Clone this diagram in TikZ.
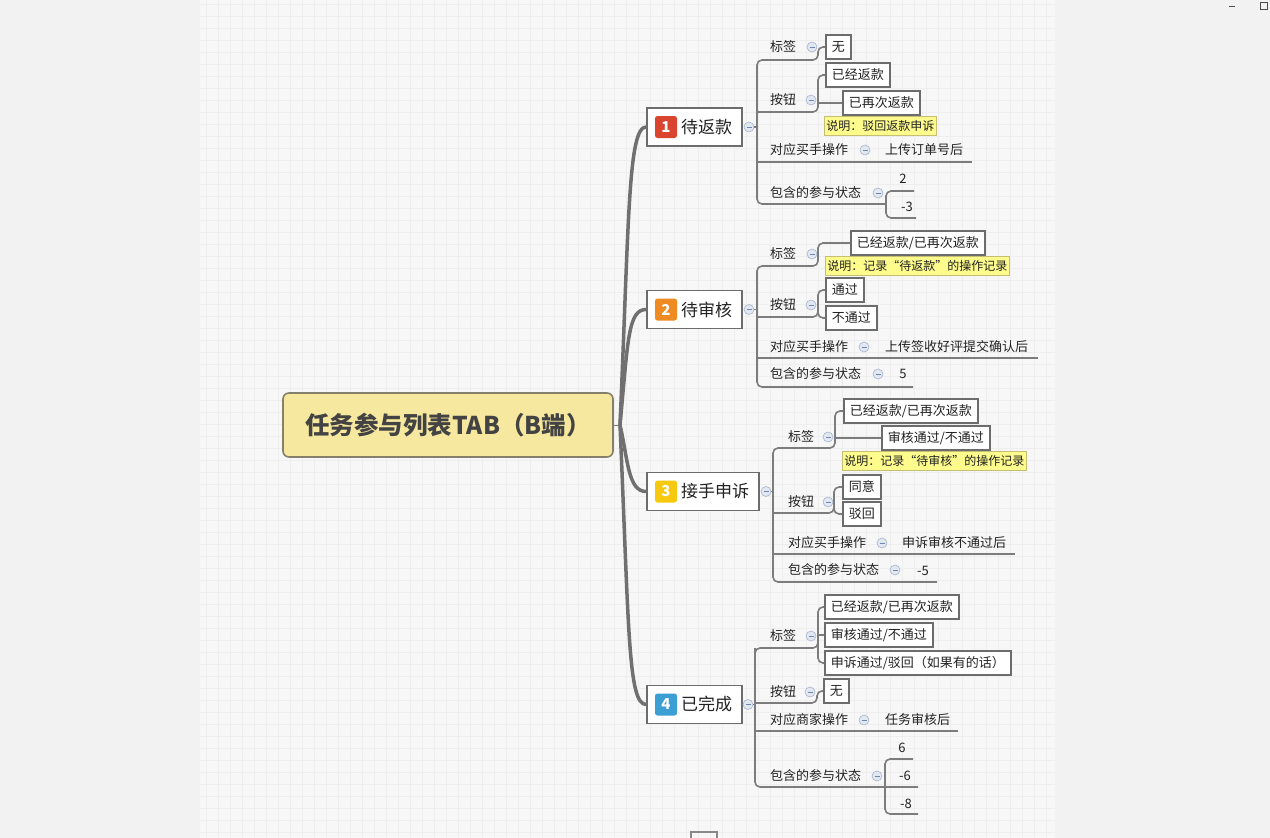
\documentclass[tikz,border=0pt]{standalone}
\usepackage{fontspec}
\setmainfont{Noto Sans CJK SC}
\usepackage{xcolor}
\usepackage{tikz}
\usetikzlibrary{positioning,calc}

\definecolor{bgcol}{HTML}{F2F2F2}
\definecolor{gridbg}{HTML}{F7F7F7}
\definecolor{gridln}{HTML}{EEEEEE}
\definecolor{linecol}{HTML}{7C7C7C}
\definecolor{boxln}{HTML}{6C6C6C}
\definecolor{rootfill}{HTML}{F6E89E}
\definecolor{rootln}{HTML}{85806C}
\definecolor{notefill}{HTML}{FDFB8C}
\definecolor{noteln}{HTML}{C6BE72}
\definecolor{foldbg}{HTML}{E2E8F2}
\definecolor{foldln}{HTML}{A7B4CA}
\definecolor{foldmk}{HTML}{6F86AE}
\definecolor{txt}{HTML}{222222}
\definecolor{iconred}{HTML}{D9452E}
\definecolor{iconorange}{HTML}{EE8B22}
\definecolor{iconyellow}{HTML}{F6C90E}
\definecolor{iconblue}{HTML}{3C9FD4}

\begin{document}
\begin{tikzpicture}[x=1pt, y=-1pt,
    conn/.style={draw=linecol, line width=1.6},
    trunk/.style={draw=linecol!90!black, line width=3.5, line cap=round},
    rootbox/.style={draw=rootln, fill=rootfill, line width=1.6, rounded corners=6,
        minimum width=330, minimum height=64, text=txt!85,
        font=\bfseries\fontsize{24.5}{24.5}\selectfont},
    topicbox/.style={draw=boxln, fill=white, line width=1.8, minimum height=38},
    topictext/.style={text=txt, inner sep=0, font=\fontsize{17}{17}\selectfont},
    numicon/.style={fill=#1, rounded corners=2.5, minimum size=22, inner sep=0,
        text=white, font=\bfseries\fontsize{15}{15}\selectfont},
    sub/.style={text=txt, inner sep=0, font=\fontsize{13}{13}\selectfont},
    itembox/.style={draw=boxln, fill=white, line width=1.5, minimum height=24,
        inner xsep=6, inner ysep=0, text=txt, font=\fontsize{13}{13}\selectfont},
    notebox/.style={draw=noteln, fill=notefill, line width=0.8, minimum height=19,
        inner xsep=2, inner ysep=0, text=txt, font=\fontsize{12}{12}\selectfont},
    fold/.style={circle, draw=foldln, fill=foldbg, line width=0.6, minimum size=10,
        inner sep=0, path picture={\draw[foldmk, line width=0.8]
        ($(path picture bounding box.center)+(-2.5,0)$) -- +(5,0);}}]

% background with the grid of the canvas
\useasboundingbox (0,0) rectangle (1270,838);
\fill[bgcol] (0,0) rectangle (1270,838);
\fill[gridbg] (200,0) rectangle (1055,838);
\foreach \gx in {206,218,...,1050}
    \draw[gridln, line width=0.5] (\gx,0) -- (\gx,838);
\foreach \gy in {4,16,...,838}
    \draw[gridln, line width=0.5] (200,\gy) -- (1055,\gy);

% window buttons and the cut off box at the bottom
\draw[black!70, line width=0.8] (1229,6) -- (1235,6);
\draw[black!70, line width=0.8] (1260,2) rectangle (1267,9);
\draw[boxln!80, line width=1.2] (691,839) -- (691,832) -- (717,832) -- (717,839);

% central topic
\node[rootbox] (root) at (448,425) {任务参与列表TAB（B端）};

% main topics
\node[topicbox, minimum width=95] (t1) at (694.5,127) {};
\node[numicon=iconred] (n1) at (666,127) {1};
\node[topictext, anchor=west] (l1) at (681,127) {待返款};
\node[topicbox, minimum width=95] (t2) at (694.5,309.5) {};
\node[numicon=iconorange] (n2) at (666,309.5) {2};
\node[topictext, anchor=west] (l2) at (681,309.5) {待审核};
\node[topicbox, minimum width=112] (t3) at (703,491.5) {};
\node[numicon=iconyellow] (n3) at (666,491.5) {3};
\node[topictext, anchor=west] (l3) at (681,491.5) {接手申诉};
\node[topicbox, minimum width=95] (t4) at (694.5,704.5) {};
\node[numicon=iconblue] (n4) at (666,704.5) {4};
\node[topictext, anchor=west] (l4) at (681,704.5) {已完成};

% trunks from the central topic
\coordinate (hub) at (620,425);
\draw[conn, line width=1] (root.east) -- (hub);
\draw[trunk] (hub) .. controls (629,220) and (628,127) .. (t1.west);
\draw[trunk] (hub) .. controls (628,340) and (628,309.5) .. (t2.west);
\draw[trunk] (hub) .. controls (628,460) and (628,491.5) .. (t3.west);
\draw[trunk] (hub) .. controls (629,630) and (628,704.5) .. (t4.west);

% ---- 1 待返款 ----
\node[fold] (f1) at (749,127) {};
\draw[conn] (f1.east) -- (757,127);
\node[sub, anchor=west] (a1) at (770,47) {标签};
\node[fold] (fa1) at (812,47) {};
\node[itembox, anchor=west] (a1x) at (825,47) {无};
\node[sub, anchor=west] (a2) at (770,100) {按钮};
\node[fold] (fa2) at (811,100) {};
\node[itembox, anchor=west] (a2x) at (825,75) {已经返款};
\node[itembox, anchor=west] (a2y) at (842,103) {已再次返款};
\node[notebox, anchor=west] (a2n) at (824,126) {说明：驳回返款申诉};
\node[sub, anchor=west] (a3) at (770,150) {对应买手操作};
\node[fold] (fa3) at (865,150) {};
\node[sub, anchor=west] (a3x) at (885,150) {上传订单号后};
\node[sub, anchor=west] (a4) at (770,193) {包含的参与状态};
\node[fold] (fa4) at (878,193) {};
\node[sub] (a4x) at (903,179) {2};
\node[sub] (a4y) at (907,207) {-3};
\draw[conn, rounded corners=5] (a1x.west) -- (818,47) -- (818,60) -- (757,60)
    -- (757,204) -- (886,204);
\draw[conn, rounded corners=5] (757,112) -- (818,112) -- (818,75) -- (a2x.west);
\draw[conn] (818,103) -- (a2y.west);
\draw[conn] (757,162) -- (972,162);
\draw[conn, rounded corners=5] (914,191) -- (886,191) -- (886,218) -- (916,218);

% ---- 2 待审核 ----
\node[fold] (f2) at (749,309.5) {};
\draw[conn] (f2.east) -- (757,309.5);
\node[sub, anchor=west] (b1) at (770,254) {标签};
\node[fold] (fb1) at (812,254) {};
\node[itembox, anchor=west] (b1x) at (850,243) {已经返款/已再次返款};
\node[notebox, anchor=west] (b1n) at (825,266) {说明：记录“待返款”的操作记录};
\node[sub, anchor=west] (b2) at (770,305) {按钮};
\node[fold] (fb2) at (811,305) {};
\node[itembox, anchor=west] (b2x) at (825,290) {通过};
\node[itembox, anchor=west] (b2y) at (825,318) {不通过};
\node[sub, anchor=west] (b3) at (770,347) {对应买手操作};
\node[fold] (fb3) at (864,347) {};
\node[sub, anchor=west] (b3x) at (885,347) {上传签收好评提交确认后};
\node[sub, anchor=west] (b4) at (770,374) {包含的参与状态};
\node[fold] (fb4) at (878,374) {};
\node[sub] (b4x) at (903,374) {5};
\draw[conn, rounded corners=5] (b1x.west) -- (818,243) -- (818,266) -- (757,266)
    -- (757,387) -- (913,387);
\draw[conn, rounded corners=5] (757,317) -- (818,317) -- (818,290) -- (b2x.west);
\draw[conn, rounded corners=5] (818,300) -- (818,318) -- (b2y.west);
\draw[conn] (757,358) -- (1038,358);

% ---- 3 接手申诉 ----
\node[fold] (f3) at (766,491.5) {};
\draw[conn] (f3.east) -- (773,491.5);
\node[sub, anchor=west] (c1) at (788,437) {标签};
\node[fold] (fc1) at (828,437) {};
\node[itembox, anchor=west] (c1x) at (843,411) {已经返款/已再次返款};
\node[itembox, anchor=west] (c1y) at (881,438) {审核通过/不通过};
\node[notebox, anchor=west] (c1n) at (842,461) {说明：记录“待审核”的操作记录};
\node[sub, anchor=west] (c2) at (788,502) {按钮};
\node[fold] (fc2) at (828,502) {};
\node[itembox, anchor=west] (c2x) at (842,487) {同意};
\node[itembox, anchor=west] (c2y) at (842,514) {驳回};
\node[sub, anchor=west] (c3) at (788,543) {对应买手操作};
\node[fold] (fc3) at (882,543) {};
\node[sub, anchor=west] (c3x) at (902,543) {申诉审核不通过后};
\node[sub, anchor=west] (c4) at (788,570) {包含的参与状态};
\node[fold] (fc4) at (895,570) {};
\node[sub] (c4x) at (923,571) {-5};
\draw[conn, rounded corners=5] (c1x.west) -- (835,411) -- (835,448) -- (773,448)
    -- (773,582) -- (937,582);
\draw[conn] (835,438) -- (c1y.west);
\draw[conn, rounded corners=5] (773,513) -- (834,513) -- (834,487) -- (c2x.west);
\draw[conn, rounded corners=5] (834,500) -- (834,514) -- (c2y.west);
\draw[conn] (773,554) -- (1015,554);

% ---- 4 已完成 ----
\node[fold] (f4) at (748,704.5) {};
\draw[conn] (f4.east) -- (755,704.5);
\node[sub, anchor=west] (d1) at (770,636) {标签};
\node[fold] (fd1) at (811,636) {};
\node[itembox, anchor=west] (d1x) at (824,607) {已经返款/已再次返款};
\node[itembox, anchor=west] (d1y) at (824,635) {审核通过/不通过};
\node[itembox, anchor=west] (d1z) at (824,663) {申诉通过/驳回（如果有的话）};
\node[sub, anchor=west] (d2) at (770,692) {按钮};
\node[fold] (fd2) at (810,692) {};
\node[itembox, anchor=west] (d2x) at (823,691) {无};
\node[sub, anchor=west] (d3) at (770,720) {对应商家操作};
\node[fold] (fd3) at (864,720) {};
\node[sub, anchor=west] (d3x) at (885,720) {任务审核后};
\node[sub, anchor=west] (d4) at (770,776) {包含的参与状态};
\node[fold] (fd4) at (877,776) {};
\node[sub] (d4x) at (902,748) {6};
\node[sub] (d4y) at (905,776) {-6};
\node[sub] (d4z) at (906,804) {-8};
\draw[conn, rounded corners=5] (d1x.west) -- (818,607) -- (818,663) -- (d1z.west);
\draw[conn] (818,635) -- (d1y.west);
\draw[conn, rounded corners=5] (755,648) -- (755,787) -- (918,787);
\draw[conn, rounded corners=5] (818,640) -- (818,648) -- (755,648) -- (755,700);
\draw[conn, rounded corners=5] (755,703) -- (817,703) -- (817,691) -- (d2x.west);
\draw[conn] (755,731) -- (958,731);
\draw[conn, rounded corners=5] (913,759) -- (885,759) -- (885,814) -- (918,814);
\end{tikzpicture}
\end{document}
